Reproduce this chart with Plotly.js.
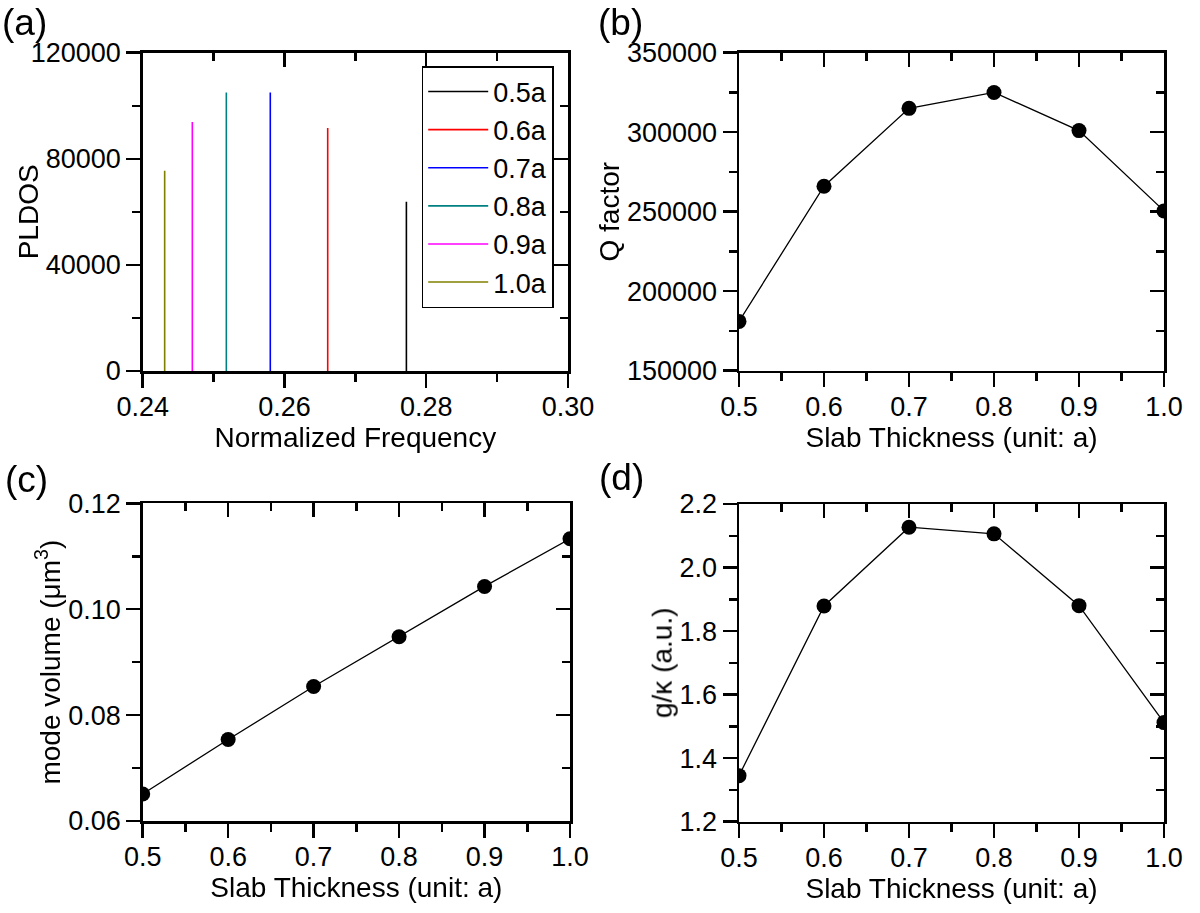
<!DOCTYPE html>
<html>
<head>
<meta charset="utf-8">
<script src="https://cdn.plot.ly/plotly-3.0.1.min.js"></script>
<style>html,body{margin:0;padding:0;background:#fff;}#chart{width:1200px;height:913px;}</style>
</head>
<body>
<div id="chart"></div>
<script>
// ---- data ----
const spikeLabels = ['0.5a', '0.6a', '0.7a', '0.8a', '0.9a', '1.0a'];
const spikeFreqs = [0.2772, 0.2661, 0.2580, 0.2518, 0.2470, 0.2431];
const spikePeaks = [63800, 91600, 105000, 105000, 93900, 75500];
const spikeColors = ['#000000', '#ff0000', '#0000ff', '#008080', '#ff00ff', '#808000'];

const thickness = [0.5, 0.6, 0.7, 0.8, 0.9, 1.0];
const qFactor = [181000, 266000, 315000, 325000, 301000, 250500];
const modeVolume = [0.0651, 0.0754, 0.0854, 0.0948, 0.1043, 0.1133];
const gKappa = [1.345, 1.879, 2.127, 2.106, 1.880, 1.512];

// ---- style ----
const FONT = 'Liberation Sans, Arial, sans-serif';
const TICKFONT = {family: FONT, size: 27, color: '#000'};
const TITLEFONT = {family: FONT, size: 28, color: '#000'};
const LW = 2.5;
const W = 1200, H = 913;
const px = v => v / W;
const py = v => 1 - v / H;

const traces = [];
// Panel (a): spikes
spikeFreqs.forEach((f, i) => {
  traces.push({
    x: [f, f], y: [0, spikePeaks[i]], type: 'scatter', mode: 'lines',
    name: spikeLabels[i], line: {color: spikeColors[i], width: 1.6},
    xaxis: 'x', yaxis: 'y', showlegend: true, hoverinfo: 'x+y'
  });
});
function lineTrace(x, y, xa, ya) {
  return {x: x, y: y, type: 'scatter', mode: 'lines+markers', xaxis: xa, yaxis: ya,
    line: {color: '#000', width: 1.3}, marker: {color: '#000', size: 15},
    showlegend: false, cliponaxis: true};
}
traces.push(lineTrace(thickness, qFactor, 'x2', 'y2'));
traces.push(lineTrace(thickness, modeVolume, 'x3', 'y3'));
traces.push(lineTrace(thickness, gKappa, 'x4', 'y4'));

// invisible traces to activate mirror axes
function ghost(x, y, xa, ya) {
  return {x: x, y: y, type: 'scatter', mode: 'markers', xaxis: xa, yaxis: ya,
    opacity: 0, hoverinfo: 'skip', showlegend: false};
}
traces.push(ghost(spikeFreqs, spikePeaks, 'x5', 'y'));
traces.push(ghost(spikeFreqs, spikePeaks, 'x', 'y5'));
traces.push(ghost(thickness, qFactor, 'x6', 'y2'));
traces.push(ghost(thickness, qFactor, 'x2', 'y6'));
traces.push(ghost(thickness, modeVolume, 'x7', 'y3'));
traces.push(ghost(thickness, modeVolume, 'x3', 'y7'));
traces.push(ghost(thickness, gKappa, 'x8', 'y4'));
traces.push(ghost(thickness, gKappa, 'x4', 'y8'));

function mainAx(opts) {
  return Object.assign({
    showline: true, linewidth: LW, linecolor: '#000', mirror: false,
    ticks: 'outside', ticklen: 14, tickwidth: LW, tickcolor: '#000',
    showgrid: false, zeroline: false, tickfont: TICKFONT, autorange: false,
    fixedrange: true
  }, opts);
}
function mirrorAx(opts) {
  return Object.assign({
    showline: true, linewidth: LW, linecolor: '#000',
    ticks: 'inside', ticklen: 14, tickwidth: LW, tickcolor: '#000',
    showgrid: false, zeroline: false, showticklabels: false, autorange: false,
    fixedrange: true
  }, opts);
}
function minor(d) { return {dtick: d, ticklen: 8, tickwidth: LW, tickcolor: '#000', ticks: 'outside'}; }
function minorIn(d) { return {dtick: d, ticklen: 8, tickwidth: LW, tickcolor: '#000', ticks: 'inside'}; }

const dom = {
  a: {x: [px(142.7), px(568)], y: [py(371), py(52.7)]},
  b: {x: [px(739), px(1164)], y: [py(370.7), py(52.7)]},
  c: {x: [px(142.7), px(570)], y: [py(821), py(503.3)]},
  d: {x: [px(739), px(1164)], y: [py(821.7), py(504)]}
};

const thickAxis = (d, anchor) => mainAx({domain: d, anchor: anchor, range: [0.5, 1.0], dtick: 0.1, tick0: 0.5,
  tickformat: '.1f', minor: minor(0.05), ticklabelstandoff: -4,
  title: {text: 'Slab Thickness (unit: a)', font: TITLEFONT, standoff: 0}});

const layout = {
  width: W, height: H,
  margin: {l: 0, r: 0, t: 0, b: 0, pad: 0},
  paper_bgcolor: '#fff', plot_bgcolor: 'rgba(0,0,0,0)',
  font: {family: FONT, color: '#000'},
  showlegend: true,
  legend: {
    x: px(421.7), y: py(66), xanchor: 'left', yanchor: 'top',
    bordercolor: '#000', borderwidth: 1.5, bgcolor: '#fff',
    font: {family: FONT, size: 27, color: '#000'},
    itemwidth: 60, tracegroupgap: 0
  },
  xaxis: mainAx({domain: dom.a.x, anchor: 'y', range: [0.24, 0.30], dtick: 0.02, tick0: 0.24,
    tickformat: '.2f', minor: minor(0.01), ticklabelstandoff: -4,
    title: {text: 'Normalized Frequency', font: TITLEFONT, standoff: 0}}),
  yaxis: mainAx({domain: dom.a.y, anchor: 'x', range: [0, 120000], dtick: 40000, tick0: 0,
    tickformat: 'd', minor: minor(20000), title: {text: 'PLDOS', font: TITLEFONT}}),
  xaxis2: thickAxis(dom.b.x, 'y2'),
  yaxis2: mainAx({domain: dom.b.y, anchor: 'x2', range: [150000, 350000], dtick: 50000, tick0: 150000,
    tickformat: 'd', minor: minor(25000), title: {text: 'Q factor', font: TITLEFONT}}),
  xaxis3: thickAxis(dom.c.x, 'y3'),
  yaxis3: mainAx({domain: dom.c.y, anchor: 'x3', range: [0.06, 0.12], dtick: 0.02, tick0: 0.06,
    tickformat: '.2f', minor: minor(0.01), title: {text: 'mode volume (\u03bcm<sup>3</sup>)', font: TITLEFONT}}),
  xaxis4: thickAxis(dom.d.x, 'y4'),
  yaxis4: mainAx({domain: dom.d.y, anchor: 'x4', range: [1.2, 2.2], dtick: 0.2, tick0: 1.2,
    tickformat: '.1f', minor: minor(0.1), title: {text: 'g/\u03ba (a.u.)', font: TITLEFONT}}),

  xaxis5: mirrorAx({overlaying: 'x', anchor: 'y', side: 'top', range: [0.24, 0.30], dtick: 0.02, tick0: 0.24, minor: minorIn(0.01)}),
  yaxis5: mirrorAx({overlaying: 'y', anchor: 'x', side: 'right', range: [0, 120000], dtick: 40000, tick0: 0, minor: minorIn(20000)}),
  xaxis6: mirrorAx({overlaying: 'x2', anchor: 'y2', side: 'top', range: [0.5, 1.0], dtick: 0.1, tick0: 0.5, minor: minorIn(0.05)}),
  yaxis6: mirrorAx({overlaying: 'y2', anchor: 'x2', side: 'right', range: [150000, 350000], dtick: 50000, tick0: 150000, minor: minorIn(25000)}),
  xaxis7: mirrorAx({overlaying: 'x3', anchor: 'y3', side: 'top', range: [0.5, 1.0], dtick: 0.1, tick0: 0.5, minor: minorIn(0.05)}),
  yaxis7: mirrorAx({overlaying: 'y3', anchor: 'x3', side: 'right', range: [0.06, 0.12], dtick: 0.02, tick0: 0.06, minor: minorIn(0.01)}),
  xaxis8: mirrorAx({overlaying: 'x4', anchor: 'y4', side: 'top', range: [0.5, 1.0], dtick: 0.1, tick0: 0.5, minor: minorIn(0.05)}),
  yaxis8: mirrorAx({overlaying: 'y4', anchor: 'x4', side: 'right', range: [1.2, 2.2], dtick: 0.2, tick0: 1.2, minor: minorIn(0.1)}),

  annotations: [
    {text: '(a)', x: 0, y: 1, xref: 'paper', yref: 'paper', xanchor: 'left', yanchor: 'top', showarrow: false, font: {family: FONT, size: 37, color: '#000'}},
    {text: '(b)', x: px(596), y: 1, xref: 'paper', yref: 'paper', xanchor: 'left', yanchor: 'top', showarrow: false, font: {family: FONT, size: 37, color: '#000'}},
    {text: '(c)', x: px(3), y: py(457), xref: 'paper', yref: 'paper', xanchor: 'left', yanchor: 'top', showarrow: false, font: {family: FONT, size: 37, color: '#000'}},
    {text: '(d)', x: px(597), y: py(455), xref: 'paper', yref: 'paper', xanchor: 'left', yanchor: 'top', showarrow: false, font: {family: FONT, size: 37, color: '#000'}}
  ]
};

Plotly.newPlot('chart', traces, layout, {staticPlot: true, displayModeBar: false});
</script>
</body>
</html>
